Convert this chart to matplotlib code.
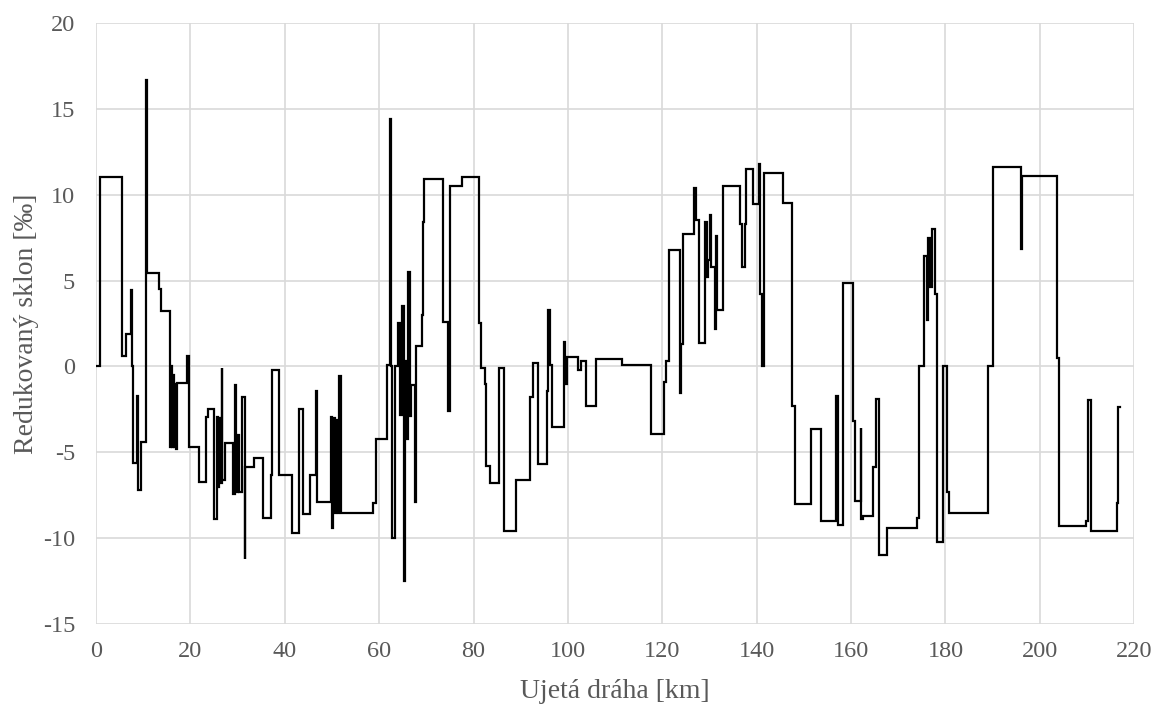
import matplotlib
matplotlib.use("Agg")
import matplotlib.pyplot as plt
import numpy as np

# profile breakpoints: start of each section [km] and its reduced gradient [permille]
km = [0.0, 0.85, 5.58, 6.36, 7.35, 7.55, 7.75, 8.6, 9.0, 9.6, 10.5, 10.75,
      13.4, 13.77, 15.7, 15.9, 16.1, 16.3, 16.5, 16.7, 16.9, 17.1, 19.35, 19.8,
      21.9, 23.4, 23.8, 24.9, 25.7, 25.9, 26.1, 26.3, 26.6, 26.75, 27.3,
      29.0, 29.4, 29.7, 30.0, 30.2, 30.9, 31.5, 31.65, 33.5, 35.3, 37.0, 37.4, 38.8,
      41.45, 43.0, 43.9, 45.3, 46.6, 46.75, 49.7, 50.0, 50.3, 50.6, 50.9, 51.2, 51.5, 51.9,
      58.75, 59.25, 61.7, 62.3, 62.6, 62.8, 63.3, 64.05, 64.4, 64.75, 65.25, 65.5,
      65.8, 66.1, 66.5, 66.7, 67.6, 67.8, 69.0, 69.35, 69.6, 73.6, 74.65, 75.0, 77.5,
      81.15, 81.6, 82.4, 82.6, 83.5, 85.45, 86.5, 89.0, 91.95, 92.65, 93.6, 95.5,
      95.8, 96.2, 96.7, 99.15, 99.4, 99.7, 102.2, 102.7, 103.8, 105.9, 111.4, 117.6,
      120.3, 120.8, 121.5, 123.7, 123.9, 124.4, 126.7, 127.05, 127.8, 129.0, 129.4,
      129.7, 130.1, 130.4, 131.1, 131.35, 131.6, 132.8, 136.45, 136.8, 137.5, 137.7,
      139.3, 140.5, 140.8, 141.2, 141.5, 145.5, 147.5, 148.1, 151.6, 153.7, 156.9,
      157.3, 158.2, 160.45, 160.75, 162.0, 162.2, 162.6, 164.7, 165.3, 166.0, 167.7,
      173.9, 174.4, 175.4, 176.0, 176.3, 176.7, 177.1, 177.8, 178.1, 178.25, 179.5,
      180.4, 180.8, 189.1, 190.0, 195.9, 196.3, 203.7, 204.1, 209.75, 210.25, 210.8,
      216.25, 216.6]
sklon = [0.0, 11.0, 0.62, 1.9, 4.42, 0.0, -5.62, -1.7, -7.2, -4.4, 16.67, 5.43,
         4.5, 3.25, -4.7, 0.0, -4.7, -0.5, -4.7, -1.0, -4.8, -0.98, 0.62, -4.7,
         -6.7, -2.96, -2.5, -8.85, -2.96, -7.0, -3.0, -6.8, -0.1, -6.6, -4.45,
         -7.4, -1.06, -7.3, -4.0, -7.3, -1.8, -11.2, -5.85, -5.33, -8.8, -6.3, -0.2, -6.3,
         -9.7, -2.5, -8.56, -6.3, -1.4, -7.9, -2.96, -9.4, -3.0, -8.5, -3.1, -8.5, -0.58, -8.5,
         -7.95, -4.2, 0.1, 14.38, 0.0, -10.0, 0.0, 2.5, -2.8, 3.5, -12.5, 0.3,
         -4.2, 5.5, -2.9, -1.05, -7.9, 1.2, 3.0, 8.4, 10.9, 2.6, -2.6, 10.47, 11.0,
         2.5, -0.1, -1.0, -5.8, -6.8, -0.1, -9.6, -6.6, -1.8, 0.2, -5.7, -1.4,
         3.3, 0.1, -3.5, 1.4, -1.0, 0.55, -0.2, 0.3, -2.3, 0.43, 0.1, -3.9,
         -0.93, 0.3, 6.77, -1.55, 1.3, 7.7, 10.4, 8.5, 1.35, 8.4, 5.2,
         6.2, 8.8, 5.8, 2.2, 7.6, 3.3, 10.47, 8.3, 5.8, 8.3, 11.5,
         9.45, 11.8, 4.2, 0.0, 11.25, 9.5, -2.3, -8.0, -3.65, -9.0, -1.7,
         -9.2, 4.83, -3.2, -7.8, -3.6, -8.9, -8.7, -5.85, -1.9, -10.97, -9.4,
         -8.8, 0.0, 6.4, 2.7, 7.45, 4.6, 8.0, 4.2, -4.3, -10.2, 0.0,
         -7.3, -8.5, 0.0, 11.6, 6.85, 11.1, 0.5, -9.3, -9.0, -1.95, -9.55,
         -7.95, -2.35]
km_end = 216.9

plt.rcParams['font.family'] = ['Liberation Serif', 'DejaVu Serif']
plt.rcParams['axes.unicode_minus'] = False
text_color = '#595959'

fig = plt.figure(figsize=(11.65, 7.04), dpi=100)
ax = fig.add_axes([0.0824, 0.1132, 0.8912, 0.8546])

x = np.append(km, km_end)
y = np.append(sklon, sklon[-1])
ax.plot(x, y, drawstyle='steps-post', color='black', lw=1.6, solid_joinstyle='miter')

ax.set_xlim(0, 220)
ax.set_ylim(-15, 20)
ax.set_xticks(np.arange(0, 221, 20))
ax.set_yticks(np.arange(-15, 21, 5))
ax.grid(True, color='#d9d9d9', lw=1.2)
ax.set_axisbelow(True)
for s in ax.spines.values():
    s.set_visible(False)
ax.tick_params(axis='x', length=0, labelsize=17.5, colors=text_color, pad=12)
ax.tick_params(axis='y', length=0, labelsize=17.5, colors=text_color, pad=15)

ax.set_xlabel('Ujetá dráha [km]', fontsize=20, color=text_color, labelpad=12)
ax.set_ylabel('Redukovaný sklon [‰]', fontsize=20, color=text_color, labelpad=3)

fig.savefig('out.png', dpi=100)
